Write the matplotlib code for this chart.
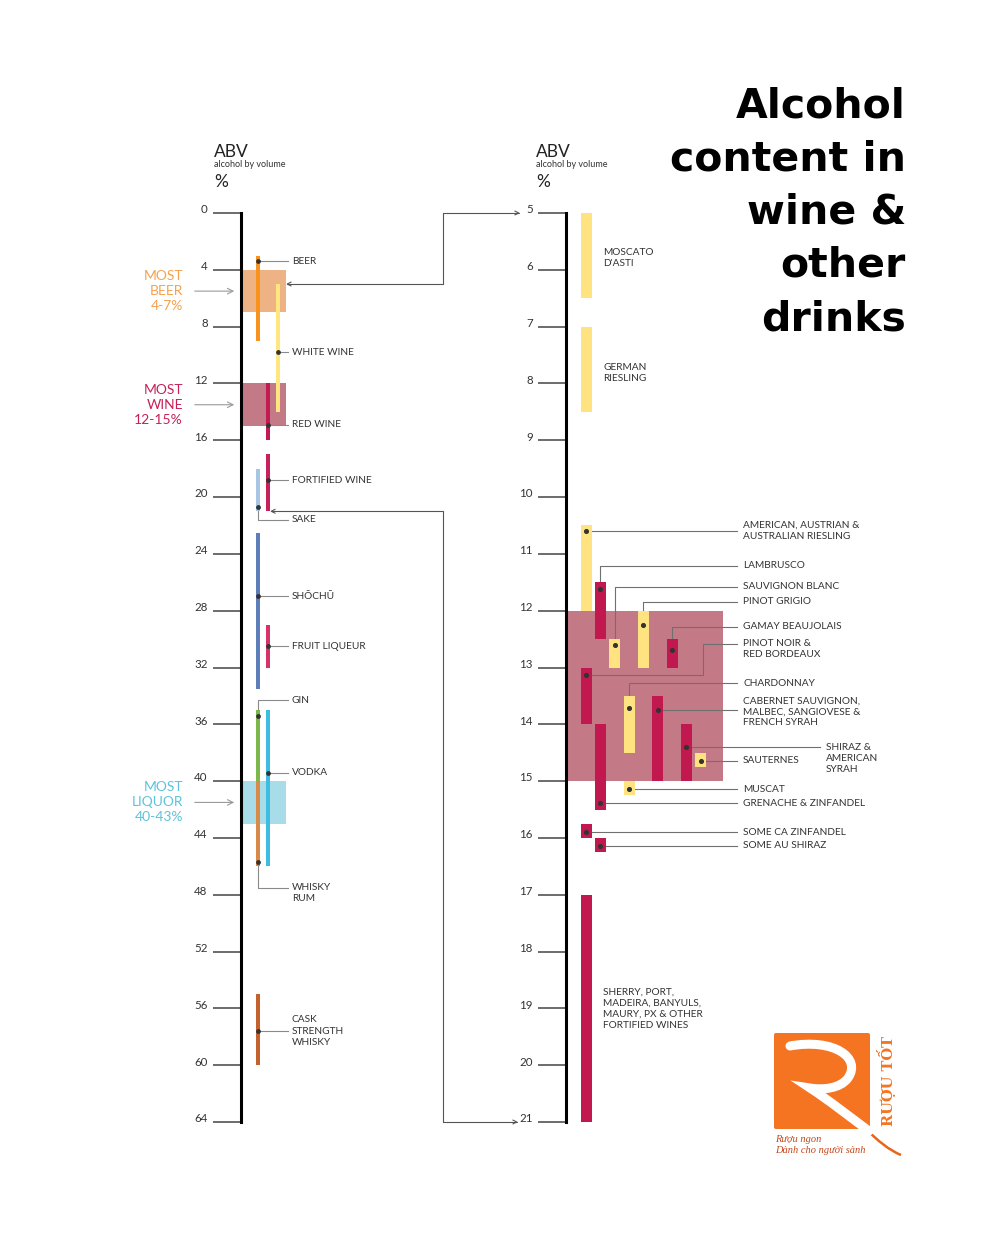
import matplotlib
matplotlib.use('Agg')
import matplotlib.pyplot as plt
from matplotlib.patches import Rectangle, FancyArrowPatch, FancyBboxPatch, PathPatch
from matplotlib.path import Path
from matplotlib.transforms import ScaledTranslation

plt.rcParams['font.family'] = ['Lato', 'DejaVu Sans']

# ---------------- data: all drinks (ABV %, 0-64 scale)
drinks = ['BEER', 'WHITE WINE', 'RED WINE', 'FORTIFIED WINE', 'SAKE', 'SHŌCHŪ',
          'FRUIT LIQUEUR', 'GIN', 'VODKA', 'WHISKY\nRUM', 'CASK\nSTRENGTH\nWHISKY']
drink_lo = [3, 5, 12, 17, 18, 22.5, 29, 35, 35, 40, 55]
drink_hi = [9, 14, 16, 21, 21, 33.5, 32, 40, 46, 46, 60]
drink_typ = [3.4, 9.8, 14.9, 18.8, 20.7, 27.0, 30.5, 35.4, 39.4, 45.7, 57.6]

most_names = ['MOST\nBEER\n4-7%', 'MOST\nWINE\n12-15%', 'MOST\nLIQUOR\n40-43%']
most_lo = [4, 12, 40]
most_hi = [7, 15, 43]

# ---------------- data: wines (ABV %, 5-21 scale)
wines = ["MOSCATO\nD'ASTI", 'GERMAN\nRIESLING', 'AMERICAN, AUSTRIAN &\nAUSTRALIAN RIESLING',
         'LAMBRUSCO', 'SAUVIGNON BLANC', 'PINOT GRIGIO', 'GAMAY BEAUJOLAIS',
         'PINOT NOIR &\nRED BORDEAUX', 'CHARDONNAY',
         'CABERNET SAUVIGNON,\nMALBEC, SANGIOVESE &\nFRENCH SYRAH',
         'SHIRAZ &\nAMERICAN\nSYRAH', 'SAUTERNES', 'MUSCAT', 'GRENACHE & ZINFANDEL',
         'SOME CA ZINFANDEL', 'SOME AU SHIRAZ',
         'SHERRY, PORT,\nMADEIRA, BANYULS,\nMAURY, PX & OTHER\nFORTIFIED WINES']
wine_lo = [5.0, 7.0, 10.5, 11.5, 12.5, 12.0, 12.5, 13.0, 13.5, 13.5, 14.0, 14.5, 15.0, 14.0, 15.75, 16.0, 17.0]
wine_hi = [6.5, 8.5, 12.0, 12.5, 13.0, 13.0, 13.0, 14.0, 14.5, 15.0, 15.0, 14.75, 15.25, 15.5, 16.0, 16.25, 21.0]
wine_typ = [None, None, 10.6, 11.62, 12.6, 12.26, 12.7, 13.13, 13.71, 13.74, 14.4, 14.64, 15.14, 15.39, 15.9, 16.14, None]
wine_kind = ['white', 'white', 'white', 'red', 'white', 'white', 'red', 'red', 'white',
             'red', 'red', 'white', 'white', 'red', 'red', 'red', 'red']
wine_most = (12, 15)

# ---------------- layout / styles
drink_colors = ['#F7931E', '#FFE680', '#C21A52', '#C8205A', '#A8C5E6', '#5D7EB9',
                '#D6336C', '#7CB84C', '#3DBDE2', '#D88A4B', '#C3622E']
drink_colx = [258, 277.7, 268, 268, 258, 258, 268, 258, 268, 258, 258]
drink_leader = [3.4, 9.8, 14.9, 18.8, 21.6, 27.0, 30.5, 34.3, 39.4, 47.5, 57.6]
drink_texty = [3.4, 9.8, 14.9, 18.8, 21.6, 27.0, 30.5, 34.3, 39.4, 47.9, 57.6]
most_fill = ['#EEB384', '#C47A86', '#A7DCE8']
most_text = ['#F4A24F', '#C8205A', '#5DC3DA']

kind_color = {'white': '#FEE380', 'red': '#C0184F'}
wine_col = [0, 0, 0, 1, 2, 4, 6, 0, 3, 5, 7, 8, 3, 1, 0, 1, 0]
wine_leader = [None, None, 10.6, 11.21, 11.58, 11.84, 12.28, 12.59, 13.28, 13.74,
               14.40, 14.64, 15.14, 15.39, 15.9, 16.14, None]
wine_elbow = {7: 703}
wine_texty = [5.8, 7.81, 10.6, 11.21, 11.58, 11.84, 12.28, 12.68, 13.28, 13.78,
              14.6, 14.64, 15.14, 15.39, 15.9, 16.14, 19.01]
wine_textx = [603, 603] + [743] * 8 + [826] + [743] * 5 + [603]

LBL = dict(fontsize=7.3, color='#333333', linespacing=1.3)
LEAD = '#8a8a8a'

fig = plt.figure(figsize=(10, 12.5), dpi=100)
fig.patch.set_facecolor('white')

bg = fig.add_axes([0, 0, 1, 1])
bg.set_xlim(0, 1000)
bg.set_ylim(1250, 0)
bg.axis('off')


def scale_axes(x0, x1, lo, hi, step):
    ax = fig.add_axes([x0 / 1000, 1 - 1122 / 1250, (x1 - x0) / 1000, (1122 - 213) / 1250])
    ax.set_xlim(x0, x1)
    ax.set_ylim(hi, lo)
    ax.patch.set_visible(False)
    for s in ['top', 'right', 'bottom']:
        ax.spines[s].set_visible(False)
    ax.spines['left'].set_linewidth(2.2)
    ax.spines['left'].set_color('black')
    ax.set_xticks([])
    ax.set_yticks(range(lo, hi + 1, step))
    ax.tick_params(axis='y', direction='out', length=20, width=1.1, color='#444444',
                   labelsize=8.3, labelcolor='#333333', pad=4)
    # labels sit a touch above their tick lines
    for lab in ax.get_yticklabels():
        lab.set_transform(lab.get_transform() + ScaledTranslation(0, 3 / 72, fig.dpi_scale_trans))
    return ax


axL = scale_axes(241, 440, 0, 64, 4)
axR = scale_axes(566, 990, 5, 21, 1)

# ---------------- left column
for lo, hi, fc in zip(most_lo, most_hi, most_fill):
    axL.add_patch(Rectangle((241, lo), 45, hi - lo, fc=fc, ec='none', zorder=1))
for name, lo, hi, fc, tc in zip(most_names, most_lo, most_hi, most_fill, most_text):
    mid = (lo + hi) / 2
    axL.text(183, mid, name, ha='right', va='center', fontsize=10, color=tc,
             linespacing=1.3)
    axL.annotate('', xy=(237, mid), xytext=(192, mid), annotation_clip=False,
                 arrowprops=dict(arrowstyle='->', color='#9a9a9a', lw=0.8))

axL.bar(drink_colx, [h - l for l, h in zip(drink_lo, drink_hi)], bottom=drink_lo,
        width=4, color=drink_colors, zorder=3)
for name, x, typ, ly, ty in zip(drinks, drink_colx, drink_typ, drink_leader, drink_texty):
    axL.plot([x, x, 288], [typ, ly, ly], color=LEAD, lw=0.8, zorder=2, clip_on=False)
    axL.scatter([x], [typ], s=6, color='#333333', zorder=4)
    axL.text(292, ty, name, ha='left', va='center', **LBL)

# ---------------- wine column
axR.add_patch(Rectangle((566, wine_most[0]), 157, wine_most[1] - wine_most[0],
                        fc='#C47A86', ec='none', zorder=1))
wine_x = [586 + 14.35 * c for c in wine_col]
axR.bar(wine_x, [h - l for l, h in zip(wine_lo, wine_hi)], bottom=wine_lo, width=11,
        color=[kind_color[k] for k in wine_kind], zorder=3)
for i, name in enumerate(wines):
    tx = wine_textx[i]
    if wine_typ[i] is not None:
        x, typ, ly = wine_x[i], wine_typ[i], wine_leader[i]
        ex = wine_elbow.get(i, x)
        axR.plot([x, ex, ex, tx - 6], [typ, typ, ly, ly], color='#707070', lw=0.8,
                 zorder=2, clip_on=False)
        axR.scatter([x], [typ], s=7, color='#333333', zorder=4)
    axR.text(tx, wine_texty[i], name, ha='left', va='center', **LBL)


# ---------------- zoom connectors between the two scales
def to_bg(ax, x, y):
    return tuple(bg.transData.inverted().transform(ax.transData.transform((x, y))))


for val, xl, xr in [(5, 286, 520), (21, 270, 518)]:
    a = to_bg(axL, xl, val)
    b = to_bg(axR, xr, val)
    verts = [a, (443, a[1]), (443, b[1]), b]
    bg.add_patch(FancyArrowPatch(path=Path(verts), arrowstyle='<->', mutation_scale=7,
                                 color='#555555', lw=0.8))

# ---------------- headers
for x0 in [214, 536]:
    bg.text(x0, 157, 'ABV', fontsize=12.5, color='#222222', va='baseline')
    bg.text(x0, 167, 'alcohol by volume', fontsize=6.5, color='#333333', va='baseline')
    bg.text(x0, 187, '%', fontsize=12.5, color='#222222', va='baseline')

# ---------------- title
title_lines = ['Alcohol', 'content in', 'wine &', 'other', 'drinks']
for k, line in enumerate(title_lines):
    bg.text(906, 117 + 53.3 * k, line, ha='right', va='baseline', fontsize=29.5,
            fontweight='bold', family=['DejaVu Sans'], color='black')

# ---------------- logo
bg.add_patch(FancyBboxPatch((774, 1033), 96, 96, boxstyle='round,pad=0,rounding_size=2',
                            fc='#F47421', ec='none', zorder=2))
r_path = Path([(790, 1046), (834, 1038), (862, 1058), (848, 1078),
               (840, 1089), (822, 1090), (810, 1088),
               (830, 1101), (850, 1117), (869, 1131)],
              [Path.MOVETO, Path.CURVE4, Path.CURVE4, Path.CURVE4,
               Path.CURVE4, Path.CURVE4, Path.CURVE4,
               Path.CURVE4, Path.CURVE4, Path.CURVE4])
bg.add_patch(PathPatch(r_path, fill=False, ec='white', lw=6.5, capstyle='round', zorder=3))
tail = Path([(866, 1129), (878, 1141), (889, 1150), (901, 1155)],
            [Path.MOVETO, Path.CURVE4, Path.CURVE4, Path.CURVE4])
bg.add_patch(PathPatch(tail, fill=False, ec='#E8641A', lw=1.8, zorder=2))
bg.text(886, 1081, 'RƯỢU TỐT', rotation=90, ha='center', va='center', fontsize=10.5,
        fontweight='bold', family=['DejaVu Serif'], color='#F47421')
bg.text(775, 1142, 'Rượu ngon', fontsize=7.5, style='italic', color='#C4461A',
        family=['Liberation Serif', 'DejaVu Serif'], va='baseline')
bg.text(775, 1153, 'Dành cho người sành', fontsize=7.5, style='italic', color='#C4461A',
        family=['Liberation Serif', 'DejaVu Serif'], va='baseline')

fig.savefig('out.png', dpi=100, facecolor='white')
